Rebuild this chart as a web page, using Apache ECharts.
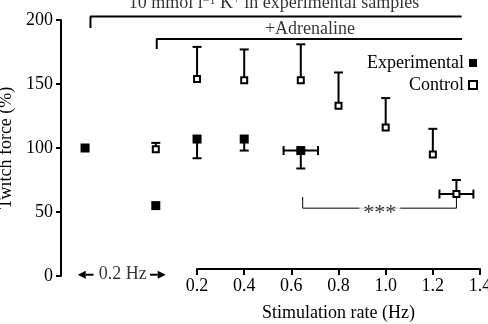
<!DOCTYPE html>
<html>
<head>
<meta charset="utf-8">
<script src="https://cdn.jsdelivr.net/npm/echarts@6/dist/echarts.min.js"></script>
<style>
html,body{margin:0;padding:0;background:#fff;}
#chart{width:488px;height:324px;}
</style>
</head>
<body>
<div id="chart"></div>
<script>
// ---- data ----
const expX = [-0.275, 0.025, 0.2, 0.4, 0.64];
const expY = [100, 55, 107, 107, 98];
const expYErr = [0, 0, 15, 9, 14];     // downward error
const expXErr = [0, 0, 0, 0, 0.073];

const ctrlX = [0.025, 0.2, 0.4, 0.64, 0.8, 1.0, 1.2, 1.3];
const ctrlY = [99, 154, 153, 153, 133, 116, 95, 64];
const ctrlYErr = [5, 25, 24, 28, 26, 23, 20, 11]; // upward error
const ctrlXErr = [0, 0, 0, 0, 0, 0, 0, 0.072];

const xTicks = [0.2, 0.4, 0.6, 0.8, 1.0, 1.2, 1.4];
const yTicks = [0, 50, 100, 150, 200];

// annotation brackets (data coordinates)
const bracketK = [[-0.252, 193.8], [-0.252, 202.7], [1.322, 202.7]];
const bracketAdr = [[0.029, 177.3], [0.029, 185.2], [1.324, 185.2]];
const bracketSig = [[0.648, 61.7], [0.648, 53], [1.30, 53], [1.30, 61.7]];

const annotText = ['10 mmol l{sup|−1} K{sup|+} in experimental samples', '+Adrenaline', '0.2 Hz', '***'];
const annotX = [0.5266, 0.679, -0.115, 0.975];
const annotY = [213, 193, 1, 53];

const arrowTail = [-0.239, 0.001];
const arrowTip = [-0.306, 0.067];
const arrowY = [1, 1];

// ---- chart ----
const FONT = 'Liberation Serif';
const chart = echarts.init(document.getElementById('chart'), null, {renderer: 'canvas'});

const expErrData = expX.map((x, i) => [x, expY[i], expY[i] - expYErr[i], expXErr[i]]);
const ctrlErrData = ctrlX.map((x, i) => [x, ctrlY[i], ctrlY[i] + ctrlYErr[i], ctrlXErr[i]]);

function errRender(params, api) {
  const x = api.value(0), y = api.value(1), yEnd = api.value(2), xe = api.value(3);
  const c = api.coord([x, y]);
  const children = [];
  const st = {stroke: '#000', lineWidth: 2};
  const cap = 4.5;
  if (yEnd !== y) {
    const e = api.coord([x, yEnd]);
    children.push({type: 'line', shape: {x1: c[0], y1: c[1], x2: e[0], y2: e[1]}, style: st});
    children.push({type: 'line', shape: {x1: e[0] - cap, y1: e[1], x2: e[0] + cap, y2: e[1]}, style: st});
  }
  if (xe > 0) {
    const l = api.coord([x - xe, y]), r = api.coord([x + xe, y]);
    children.push({type: 'line', shape: {x1: l[0], y1: l[1], x2: r[0], y2: r[1]}, style: st});
    children.push({type: 'line', shape: {x1: l[0], y1: l[1] - cap, x2: l[0], y2: l[1] + cap}, style: st});
    children.push({type: 'line', shape: {x1: r[0], y1: r[1] - cap, x2: r[0], y2: r[1] + cap}, style: st});
  }
  return {type: 'group', children};
}

function arrowRender(params, api) {
  const t = api.coord([api.value(0), api.value(2)]);
  const h = api.coord([api.value(1), api.value(2)]);
  const dir = Math.sign(h[0] - t[0]);
  const hl = 8, hw = 4;
  return {type: 'group', children: [
    {type: 'line', shape: {x1: t[0], y1: t[1], x2: h[0] - dir * hl, y2: h[1]}, style: {stroke: '#000', lineWidth: 2}},
    {type: 'polygon', shape: {points: [[h[0], h[1]], [h[0] - dir * hl, h[1] - hw], [h[0] - dir * hl, h[1] + hw]]}, style: {fill: '#000'}}
  ]};
}

const lineSeries = (data, w) => ({
  type: 'line', data, xAxisIndex: 0, yAxisIndex: 0, symbol: 'none', clip: false,
  lineStyle: {color: '#000', width: w}, silent: true, z: 1, animation: false
});

const option = {
  backgroundColor: '#fff',
  animation: false,
  textStyle: {fontFamily: FONT, color: '#000'},
  grid: [
    {left: 61, right: 8, top: 20, bottom: 48, containLabel: false, outerBoundsMode: 'none'},
    {left: 197, right: 8, top: 20, bottom: 55, containLabel: false, outerBoundsMode: 'none'}
  ],
  legend: {
    orient: 'vertical', right: 5, top: 49, align: 'right',
    itemWidth: 8, itemHeight: 8, itemGap: 4,
    textStyle: {fontFamily: FONT, fontSize: 18, color: '#000'},
    data: [
      {name: 'Experimental', icon: 'rect', itemStyle: {color: '#000'}},
      {name: 'Control', icon: 'rect', itemStyle: {color: '#fff', borderColor: '#000', borderWidth: 2}}
    ]
  },
  xAxis: [
    {gridIndex: 0, type: 'value', min: -0.377, max: 1.4, show: false},
    {
      gridIndex: 1, type: 'value', min: xTicks[0], max: xTicks[xTicks.length - 1], interval: 0.2,
      axisLine: {show: true, onZero: false, lineStyle: {color: '#000', width: 2}},
      axisTick: {show: true, length: 6, lineStyle: {color: '#000', width: 2}},
      axisLabel: {formatter: v => v.toFixed(1), fontFamily: FONT, fontSize: 18, color: '#000', margin: 8},
      splitLine: {show: false},
      name: 'Stimulation rate (Hz)', nameLocation: 'middle', nameGap: 35,
      nameTextStyle: {fontFamily: FONT, fontSize: 18, color: '#000'}
    }
  ],
  yAxis: [
    {
      gridIndex: 0, type: 'value', min: yTicks[0], max: yTicks[yTicks.length - 1], interval: 50,
      axisLine: {show: true, onZero: false, lineStyle: {color: '#000', width: 2}},
      axisTick: {show: true, length: 5, lineStyle: {color: '#000', width: 2}},
      axisLabel: {fontFamily: FONT, fontSize: 18, color: '#000', margin: 8},
      splitLine: {show: false},
      name: 'Twitch force (%)', nameLocation: 'middle', nameGap: 45, nameRotate: 90,
      nameTextStyle: {fontFamily: FONT, fontSize: 18, color: '#000'}
    },
    {gridIndex: 1, type: 'value', min: 0, max: 200, show: false}
  ],
  series: [
    lineSeries(bracketK, 2),
    lineSeries(bracketAdr, 2),
    lineSeries(bracketSig, 1),
    {
      type: 'custom', name: 'expErr', xAxisIndex: 0, yAxisIndex: 0, renderItem: errRender,
      data: expErrData, encode: {x: 0, y: 1}, z: 2, clip: false, silent: true
    },
    {
      type: 'custom', name: 'ctrlErr', xAxisIndex: 0, yAxisIndex: 0, renderItem: errRender,
      data: ctrlErrData, encode: {x: 0, y: 1}, z: 2, clip: false, silent: true
    },
    {
      type: 'custom', name: 'arrows', xAxisIndex: 0, yAxisIndex: 0, renderItem: arrowRender,
      data: arrowTail.map((t, i) => [t, arrowTip[i], arrowY[i]]), encode: {x: [0, 1], y: 2}, z: 2, clip: false, silent: true
    },
    {
      type: 'scatter', name: 'Experimental', xAxisIndex: 0, yAxisIndex: 0,
      data: expX.map((x, i) => [x, expY[i]]),
      symbol: 'rect', symbolSize: 9, itemStyle: {color: '#000', opacity: 1}, z: 3, clip: false
    },
    {
      type: 'scatter', name: 'Control', xAxisIndex: 0, yAxisIndex: 0,
      data: ctrlX.map((x, i) => [x, ctrlY[i]]),
      symbol: 'rect', symbolSize: 6, itemStyle: {color: '#fff', borderColor: '#000', borderWidth: 2, opacity: 1}, z: 3, clip: false
    },
    {
      type: 'scatter', name: 'annotations', xAxisIndex: 0, yAxisIndex: 0, clip: false, silent: true,
      symbol: 'circle', symbolSize: 1, itemStyle: {color: 'rgba(0,0,0,0)'}, z: 4,
      data: annotText.map((t, i) => ({
        value: [annotX[i], annotY[i]],
        label: t === '***'
          ? {show: true, position: 'inside', formatter: t, fontFamily: FONT, fontSize: 22, color: '#000', backgroundColor: '#fff', padding: [0, 4], offset: [0, 5]}
          : {show: true, position: 'inside', formatter: t, fontFamily: FONT, fontSize: 18, color: '#000',
             rich: {sup: {fontFamily: FONT, fontSize: 12, color: '#000', verticalAlign: 'top', lineHeight: 12}}}
      }))
    }
  ]
};
chart.setOption(option);
</script>
</body>
</html>
